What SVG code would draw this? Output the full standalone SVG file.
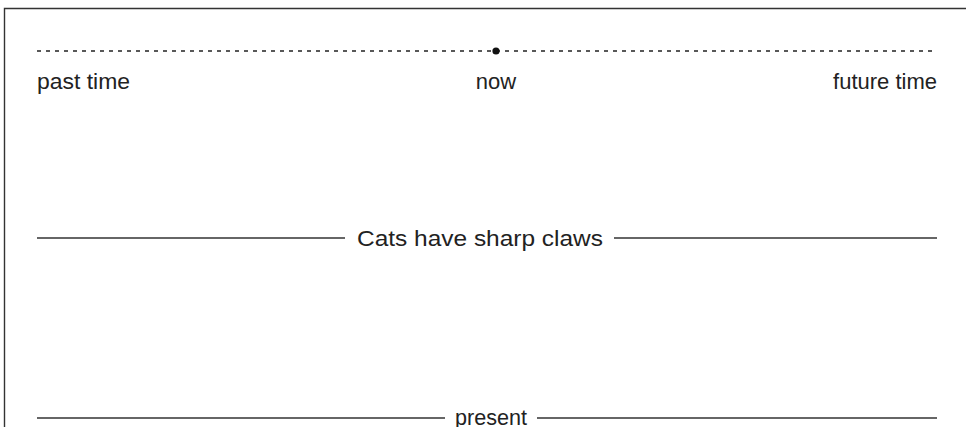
<svg xmlns="http://www.w3.org/2000/svg" width="966" height="427" viewBox="0 0 966 427">
<style>
.t{font-family:"Liberation Sans","DejaVu Sans",sans-serif;font-size:22px;fill:#222}
.ln{stroke:#333;stroke-width:1.4;fill:none}
.dash{stroke:#222;stroke-width:1.3;stroke-dasharray:4 5;fill:none}
</style>
<rect width="966" height="427" fill="#fff"/>
<path d="M4.5 427 V8.5 H966" stroke="#333" stroke-width="1.4" fill="none"/>
<g id="timeline">
<line class="dash" x1="37" y1="51" x2="937" y2="51"/>
<circle cx="496" cy="51" r="3.6" fill="#111"/>
</g>
<g id="past"><text class="t" x="37" y="89" textLength="93" lengthAdjust="spacingAndGlyphs">past time</text></g>
<g id="now"><text class="t" x="496" y="89" text-anchor="middle">now</text></g>
<g id="future"><text class="t" x="937" y="89" text-anchor="end">future time</text></g>
<g id="connectors">
<line class="ln" x1="37" y1="238" x2="345" y2="238"/>
<line class="ln" x1="614" y1="238" x2="937" y2="238"/>
<line class="ln" x1="37" y1="418" x2="445" y2="418"/>
<line class="ln" x1="537" y1="418" x2="937" y2="418"/>
</g>
<g id="cats"><text class="t" x="357" y="246" textLength="246" lengthAdjust="spacingAndGlyphs">Cats have sharp claws</text></g>
<g id="present"><text class="t" x="455" y="425" textLength="72" lengthAdjust="spacingAndGlyphs">present</text></g>
</svg>
